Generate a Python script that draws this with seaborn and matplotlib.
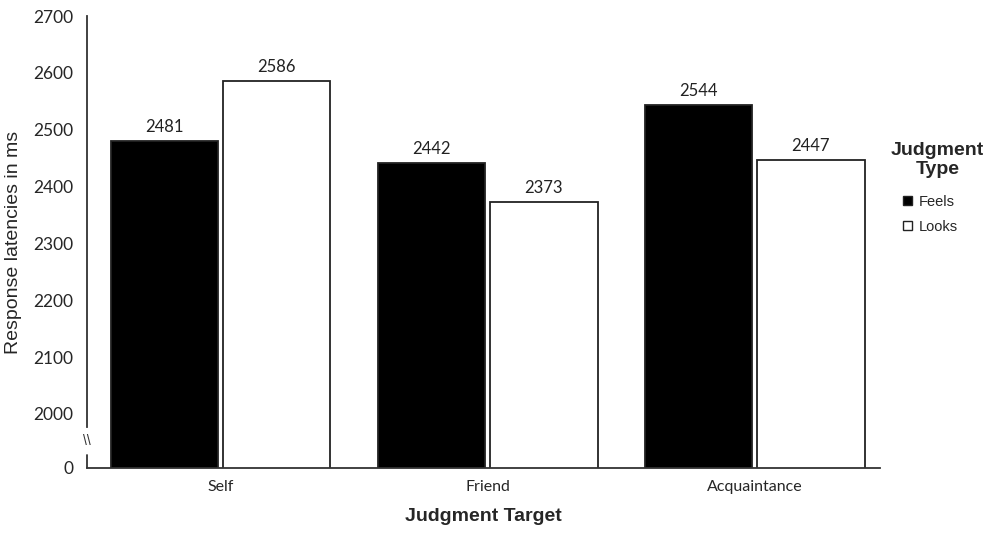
import seaborn as sns
import matplotlib.pyplot as plt
import pandas as pd

# values
targets = ["Self", "Friend", "Acquaintance"]
feels = [2481, 2442, 2544]
looks = [2586, 2373, 2447]
judgment_types = ["Feels", "Looks"]
y_ticks = [2000, 2100, 2200, 2300, 2400, 2500, 2600, 2700]

data = pd.DataFrame({
    "Target": targets * 2,
    "Type": ["Feels"] * 3 + ["Looks"] * 3,
    "Latency": feels + looks,
})

sns.set_style("white")
plt.rcParams["font.family"] = ["Liberation Sans", "DejaVu Sans"]

fig = plt.figure(figsize=(9.89, 5.37), dpi=100)
ax = fig.add_axes([0.088, 0.1285, 0.802, 0.8415])

sns.barplot(
    data=data, x="Target", y="Latency", hue="Type",
    order=targets, hue_order=judgment_types,
    palette={"Feels": "black", "Looks": "white"},
    edgecolor="#222222", linewidth=1.3,
    width=0.84, gap=0.04, ax=ax, legend=False,
)

y_bottom = 1905
ax.set_ylim(y_bottom, 2700)
ax.set_xlim(-0.5, 2.47)

# value labels
for cont in ax.containers:
    ax.bar_label(cont, fmt="%d", padding=4, fontsize=12,
                 family=["Lato", "DejaVu Sans"], color="#222222")

ax.set_yticks([y_bottom] + y_ticks)
ax.set_yticklabels(["0"] + [str(t) for t in y_ticks],
                   family=["Lato", "DejaVu Sans"], fontsize=12.5)
ax.tick_params(axis="x", labelsize=11.5, length=0, pad=9)
for lbl in ax.get_xticklabels():
    lbl.set_family(["Lato", "DejaVu Sans"])
ax.tick_params(axis="y", length=0, pad=10)

# broken y-axis
for s in ["top", "right"]:
    ax.spines[s].set_visible(False)
ax.spines["left"].set_bounds(1977, 2700)
ax.spines["left"].set_color("#333333")
ax.spines["bottom"].set_color("#333333")
ax.spines["left"].set_linewidth(1.3)
ax.spines["bottom"].set_linewidth(1.3)
ax.plot([-0.5, -0.5], [y_bottom, 1928], color="#333333", lw=1.3, clip_on=False)
ax.text(-0.5, 1953, "\\\\", ha="center", va="center", fontsize=10,
        color="#333333", clip_on=False)

ax.set_xlabel("Judgment Target", fontsize=14, fontweight="bold", labelpad=10)
ax.set_ylabel("Response latencies in ms", fontsize=14, labelpad=8)

# legend
fig.text(0.948, 0.702, "Judgment\nType", ha="center", va="center",
         fontsize=14, fontweight="bold", linespacing=1.1)
handles = [plt.Rectangle((0, 0), 1, 1, facecolor=c, edgecolor="#222222", lw=1)
           for c in ["black", "white"]]
fig.legend(handles, judgment_types, loc="center", bbox_to_anchor=(0.941, 0.601),
           frameon=False, fontsize=10.5, handlelength=0.6, handleheight=0.6,
           handletextpad=0.5, labelspacing=0.75)

fig.savefig("out.png", dpi=100)
plt.close(fig)
